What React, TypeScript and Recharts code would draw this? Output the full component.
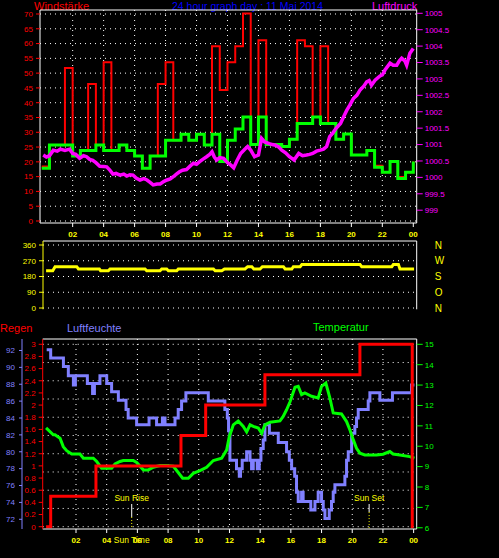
import { ComposedChart, Line, XAxis, YAxis, CartesianGrid, ReferenceLine } from 'recharts';

const FONT = '"Liberation Sans", Arial, sans-serif';

// half-hour slots for wind
const WIND_HOURS = [
  0, 0.5, 1, 1.5, 2, 2.5, 3, 3.5, 4, 4.5, 5, 5.5, 6, 6.5, 7, 7.5, 8, 8.5, 9, 9.5, 10, 10.5, 11, 11.5,
  12, 12.5, 13, 13.5, 14, 14.5, 15, 15.5, 16, 16.5, 17, 17.5, 18, 18.5, 19, 19.5, 20, 20.5, 21, 21.5,
  22, 22.5, 23, 23.5, 24,
];
const WIND_AVG = [
  17.8, 25.7, 25.7, 25.7, 22.0, 23.8, 23.8, 25.7, 23.8, 23.8, 25.7, 23.8, 22.0, 17.8, 22.0, 22.0,
  27.3, 27.3, 29.3, 27.3, 29.3, 25.7, 29.3, 20.1, 27.3, 31.1, 35.2, 25.9, 35.2, 25.9, 25.9, 25.2,
  27.6, 33.0, 33.0, 35.2, 33.0, 33.0, 27.6, 29.4, 22.3, 22.3, 23.8, 18.2, 16.5, 20.1, 14.4, 16.5, 20.1,
];
const WIND_GUST = [
  18.4, 25.7, 25.7, 51.7, 22.0, 23.8, 46.3, 25.7, 53.7, 23.8, 25.7, 23.8, 22.0, 17.8, 22.0, 46.3,
  53.7, 27.3, 29.3, 27.3, 29.3, 25.7, 59.1, 44.3, 53.7, 59.1, 70.2, 25.9, 61.1, 25.9, 25.9, 25.2,
  27.6, 61.1, 59.1, 35.2, 59.1, 33.0, 27.6, 29.4, 22.3, 22.3, 23.8, 18.7, 16.5, 20.1, 14.9, 16.5, 20.1,
];

// [hour, hPa]
const PRESSURE: [number, number][] = [
  [0.1, 1000.68], [0.3, 1000.62], [0.5, 1000.66], [0.75, 1000.83], [1.0, 1000.8], [1.2, 1000.86],
  [1.5, 1000.82], [1.8, 1000.86], [2.0, 1000.73], [2.2, 1000.7], [2.45, 1000.58], [2.7, 1000.66],
  [2.9, 1000.63], [3.1, 1000.55], [3.3, 1000.52], [3.5, 1000.45], [3.75, 1000.34], [4.0, 1000.33],
  [4.2, 1000.32], [4.4, 1000.22], [4.6, 1000.1], [4.8, 1000.12], [5.05, 1000.07], [5.3, 1000.1],
  [5.5, 1000.04], [5.7, 1000.08], [5.9, 1000.07], [6.1, 999.98], [6.35, 999.92], [6.6, 999.96],
  [6.8, 999.92], [7.0, 999.85], [7.2, 999.77], [7.45, 999.8], [7.65, 999.8], [7.9, 999.88],
  [8.1, 999.92], [8.3, 999.95], [8.5, 1000.02], [8.7, 1000.1], [8.9, 1000.17], [9.1, 1000.22],
  [9.35, 1000.24], [9.6, 1000.35], [9.8, 1000.43], [10.0, 1000.4], [10.2, 1000.48], [10.4, 1000.55],
  [10.65, 1000.63], [10.85, 1000.7], [11.0, 1000.78], [11.15, 1000.62], [11.3, 1000.53], [11.5, 1000.6],
  [11.75, 1000.58], [12.0, 1000.45], [12.2, 1000.38], [12.4, 1000.29], [12.6, 1000.5], [12.85, 1000.73],
  [13.1, 1000.85], [13.3, 1000.94], [13.5, 1000.83], [13.75, 1000.63], [14.0, 1000.68], [14.2, 1001.19],
  [14.4, 1001.08], [14.7, 1001.03], [14.9, 1001.0], [15.1, 1000.98], [15.3, 1000.93], [15.5, 1000.83],
  [15.75, 1000.75], [16.0, 1000.63], [16.3, 1000.53], [16.6, 1000.73], [16.85, 1000.66], [17.1, 1000.68],
  [17.3, 1000.7], [17.5, 1000.73], [17.75, 1000.8], [18.0, 1000.83], [18.2, 1000.86], [18.4, 1000.94],
  [18.6, 1001.24], [18.8, 1001.35], [19.0, 1001.49], [19.3, 1001.64], [19.5, 1001.85], [19.7, 1002.04],
  [19.9, 1002.2], [20.13, 1002.4], [20.35, 1002.5], [20.56, 1002.66], [20.8, 1002.78], [20.99, 1002.91],
  [21.15, 1002.95], [21.3, 1002.81], [21.53, 1002.96], [21.85, 1003.09], [22.0, 1003.12], [22.17, 1003.27],
  [22.5, 1003.48], [22.7, 1003.42], [22.93, 1003.42], [23.1, 1003.55], [23.25, 1003.63], [23.45, 1003.55],
  [23.57, 1003.42], [23.78, 1003.78], [24.0, 1003.93],
];

// [hour, degrees]
const DIRECTION: [number, number][] = [
  [0.28, 213], [0.71, 213], [0.86, 236], [2.26, 236], [2.37, 223], [3.72, 223], [3.8, 213], [4.3, 213],
  [4.41, 223], [6.67, 223], [6.78, 213], [7.64, 213], [7.75, 223], [8.07, 223], [8.18, 213], [8.72, 213],
  [8.82, 223], [11.09, 223], [11.2, 213], [11.63, 213], [11.8, 223], [13.13, 223], [13.3, 236], [13.57, 236],
  [13.7, 223], [14.1, 223], [14.25, 236], [15.61, 236], [15.72, 223], [16.15, 223], [16.25, 236], [16.69, 236],
  [16.8, 248], [20.56, 248], [20.67, 236], [22.61, 236], [22.71, 248], [23.04, 248], [23.14, 223], [24.05, 223],
];

// [hour, %]
const HUMIDITY: [number, number][] = [
  [0.09, 92.1], [0.35, 91.1], [1.18, 90.1], [1.5, 89.0], [1.83, 87.9], [1.96, 89.0], [2.74, 88.1],
  [3.08, 86.9], [3.2, 88.1], [3.56, 89.0], [4.0, 88.1], [4.32, 87.1], [4.76, 86.1], [5.26, 85.0],
  [5.4, 84.0], [5.95, 83.2], [6.76, 84.0], [7.25, 83.2], [7.63, 84.0], [7.8, 83.2], [8.45, 84.0],
  [8.66, 85.0], [8.88, 86.0], [9.16, 87.0], [10.62, 86.0], [11.7, 85.0], [11.86, 84.0], [11.94, 82.5],
  [12.03, 79.0], [12.46, 78.0], [12.64, 77.1], [12.72, 78.0], [12.83, 79.0], [13.12, 80.0], [13.34, 79.0],
  [13.44, 78.0], [13.55, 79.0], [13.81, 78.0], [13.94, 79.0], [14.05, 80.4], [14.2, 81.4], [14.31, 83.2],
  [14.6, 82.2], [15.18, 81.1], [15.72, 80.0], [15.9, 79.0], [16.05, 78.0], [16.25, 77.1], [16.37, 75.2],
  [16.48, 74.1], [16.7, 75.2], [16.8, 74.1], [17.3, 73.1], [17.57, 74.1], [17.78, 75.2], [18.0, 74.1],
  [18.11, 73.1], [18.22, 72.1], [18.5, 73.1], [18.65, 74.1], [18.76, 75.2], [18.87, 76.1], [19.52, 77.1],
  [19.63, 79.0], [19.74, 80.0], [19.96, 82.2], [20.17, 83.0], [20.28, 84.0], [20.39, 85.0], [21.04, 86.0],
  [21.15, 87.0], [21.8, 86.1], [22.62, 87.0], [23.86, 87.9], [24.05, 87.9],
];

// [hour, °C]
const TEMPERATURE: [number, number][] = [
  [0.05, 10.9], [0.52, 10.56], [0.63, 10.56], [0.96, 10.39], [1.17, 9.98], [1.39, 9.78], [1.72, 9.62],
  [2.26, 9.62], [2.48, 9.41], [3.13, 9.41], [3.35, 9.25], [3.67, 8.92], [4.32, 8.92], [4.54, 9.13],
  [4.87, 9.25], [5.08, 9.3], [5.73, 9.3], [5.95, 9.2], [6.39, 8.84], [6.71, 8.84], [7.04, 8.97],
  [7.47, 9.05], [7.9, 9.05], [8.34, 9.02], [8.66, 8.71], [8.95, 8.43], [9.32, 8.43], [9.64, 8.67],
  [10.08, 8.8], [10.51, 8.97], [10.95, 9.3], [11.49, 9.41], [11.82, 9.82], [11.99, 10.48], [12.14, 10.8],
  [12.25, 11.05], [12.57, 11.24], [12.9, 10.97], [13.12, 10.7], [13.34, 11.05], [13.55, 10.97],
  [13.88, 10.89], [14.1, 10.64], [14.31, 11.05], [14.64, 11.18], [15.29, 11.24], [15.5, 11.46],
  [15.72, 11.79], [15.94, 12.17], [16.27, 12.89], [16.48, 12.94], [16.7, 12.53], [16.91, 12.61],
  [17.35, 12.45], [17.78, 12.37], [18.0, 12.94], [18.28, 13.1], [18.54, 12.37], [18.76, 11.63],
  [19.3, 11.58], [19.63, 11.21], [19.85, 10.8], [20.07, 10.31], [20.28, 9.9], [20.5, 9.66], [20.82, 9.57],
  [21.58, 9.57], [22.01, 9.61], [22.45, 9.74], [22.66, 9.62], [23.1, 9.57], [23.75, 9.49], [24.05, 9.41],
];

// [hour, mm]
const RAIN: [number, number][] = [
  [0.05, 0], [0.35, 0.5], [3.3, 1.0], [8.84, 1.5], [10.45, 2.0], [14.31, 2.5], [20.5, 3.0], [23.91, 0], [24.0, 0],
];

const HOUR_TICKS = [2, 4, 6, 8, 10, 12, 14, 16, 18, 20, 22, 24];
const GRID_HOURS = [2, 4, 6, 8, 10, 12, 14, 16, 18, 20, 22];
const WIND_TICKS = [0, 5, 10, 15, 20, 25, 30, 35, 40, 45, 50, 55, 60, 65, 70];
const PRESS_TICKS = [999, 999.5, 1000, 1000.5, 1001, 1001.5, 1002, 1002.5, 1003, 1003.5, 1004, 1004.5, 1005];
const DIR_TICKS = [0, 90, 180, 270, 360];
const DIR_LETTERS: Record<number, string> = { 0: 'N', 90: 'O', 180: 'S', 270: 'W', 360: 'N' };
const RAIN_TICKS = [0, 0.2, 0.4, 0.6, 0.8, 1, 1.2, 1.4, 1.6, 1.8, 2, 2.2, 2.4, 2.6, 2.8, 3];
const RAIN_GRID = [0, 0.3, 0.6, 0.9, 1.2, 1.5, 1.8, 2.1, 2.4, 2.7, 3];
const HUM_TICKS = [72, 74, 76, 78, 80, 82, 84, 86, 88, 90, 92];
const TEMP_TICKS = [6, 7, 8, 9, 10, 11, 12, 13, 14, 15];

const SUN_RISE = 5.63;
const SUN_SET = 21.1;

const windData = WIND_HOURS.map((h, i) => ({ h, avg: WIND_AVG[i], gust: WIND_GUST[i] }));
const pressData = PRESSURE.map(([h, v]) => ({ h, v }));
const dirData = DIRECTION.map(([h, v]) => ({ h, v }));
const humData = HUMIDITY.map(([h, v]) => ({ h, v }));
const tempData = TEMPERATURE.map(([h, v]) => ({ h, v }));
const rainData = RAIN.map(([h, v]) => ({ h, v }));

const fmtHour = (v: number) => String(v % 24).padStart(2, '0');
const fmtRain = (v: number) => String(Math.round(v * 10) / 10);

const WIND_DOMAIN = [-0.68, 71.35];
const PRESS_DOMAIN = [998.61, 1005.1];
const DIR_DOMAIN = [-7.4, 382.9];
const RAIN_DOMAIN = [-0.038, 3.087];
const HUM_DOMAIN = [70.85, 93.36];
const TEMP_DOMAIN = [5.94, 15.26];

// left axes are stacked in id order: the first one sits next to the plot
const RAIN_AXIS = 'a-rain';
const HUM_AXIS = 'b-hum';

const dotted = { stroke: '#ffffff', strokeDasharray: '1 4' };

function Title({ x, y, color, children, size = 11 }: any) {
  return (
    <div
      style={{
        position: 'absolute',
        left: x,
        top: y,
        color,
        fontSize: size,
        lineHeight: '12px',
        whiteSpace: 'nowrap',
      }}
    >
      {children}
    </div>
  );
}

export default function App() {
  return (
    <div
      style={{
        position: 'absolute',
        left: 0,
        top: 0,
        width: 499,
        height: 558,
        background: '#000',
        fontFamily: FONT,
        overflow: 'hidden',
      }}
    >
      <Title x={34} y={0} color="#ff0000">Windstärke</Title>
      <Title x={172} y={0} color="#0000ff" size={10.5}>24 hour graph day : 11 Mai 2014</Title>
      <Title x={372} y={0} color="#ff00ff">Luftdruck</Title>
      <Title x={0} y={322} color="#ff0000">Regen</Title>
      <Title x={67} y={322} color="#8080ff">Luftfeuchte</Title>
      <Title x={313} y={321} color="#00ff00">Temperatur</Title>

      {/* wind + pressure */}
      <div style={{ position: 'absolute', left: 0, top: 0 }}>
        <ComposedChart width={499} height={240} margin={{ top: 10, right: 0, bottom: 0, left: 0 }}>
          <CartesianGrid {...dotted} yAxisId="wind" horizontalValues={WIND_TICKS} verticalValues={GRID_HOURS} />
          <XAxis
            type="number"
            dataKey="h"
            domain={[-0.11, 24.22]}
            allowDataOverflow
            ticks={HOUR_TICKS}
            interval={0}
            tickFormatter={fmtHour}
            height={17}
            stroke="#ffffff"
            tick={{ fill: '#ffff00', fontSize: 8, fontWeight: 'bold' }}
            tickSize={4}
            tickMargin={4}
          />
          <YAxis
            yAxisId="wind"
            type="number"
            domain={WIND_DOMAIN}
            allowDataOverflow
            ticks={WIND_TICKS}
            interval={0}
            width={40}
            axisLine={{ stroke: '#ffffff' }}
            tickLine={{ stroke: '#ff0000' }}
            tick={{ fill: '#ff0000', fontSize: 8 }}
            tickSize={4}
            tickMargin={3}
          />
          <YAxis
            yAxisId="press"
            orientation="right"
            type="number"
            domain={PRESS_DOMAIN}
            allowDataOverflow
            ticks={PRESS_TICKS}
            interval={0}
            width={82.3}
            axisLine={{ stroke: '#ffffff' }}
            tickLine={{ stroke: '#ff00ff' }}
            tick={{ fill: '#ff00ff', fontSize: 8 }}
            tickSize={6}
            tickMargin={2}
          />
          <ReferenceLine yAxisId="wind" y={WIND_DOMAIN[1]} stroke="#ffffff" />
          <Line
            data={windData}
            yAxisId="wind"
            dataKey="gust"
            type="stepAfter"
            stroke="#ff0000"
            strokeWidth={2}
            dot={false}
            isAnimationActive={false}
          />
          <Line
            data={windData}
            yAxisId="wind"
            dataKey="avg"
            type="stepAfter"
            stroke="#00ff00"
            strokeWidth={3}
            dot={false}
            isAnimationActive={false}
          />
          <Line
            data={pressData}
            yAxisId="press"
            dataKey="v"
            type="linear"
            stroke="#ff00ff"
            strokeWidth={3.5}
            dot={false}
            isAnimationActive={false}
          />
        </ComposedChart>
      </div>

      {/* wind direction */}
      <div style={{ position: 'absolute', left: 0, top: 236 }}>
        <ComposedChart width={499} height={78} margin={{ top: 5, right: 0, bottom: 4.7, left: 0 }}>
          <CartesianGrid {...dotted} yAxisId="dir" vertical={false} horizontalValues={DIR_TICKS} />
          <XAxis type="number" dataKey="h" domain={[0.08, 24.22]} allowDataOverflow hide />
          <YAxis
            yAxisId="dir"
            type="number"
            domain={DIR_DOMAIN}
            allowDataOverflow
            ticks={DIR_TICKS}
            interval={0}
            width={43}
            axisLine={{ stroke: '#ffff00' }}
            tickLine={{ stroke: '#ffff00' }}
            tick={{ fill: '#ffff00', fontSize: 8 }}
            tickSize={4}
            tickMargin={3}
          />
          <YAxis
            yAxisId="dirR"
            orientation="right"
            type="number"
            domain={DIR_DOMAIN}
            allowDataOverflow
            ticks={DIR_TICKS}
            interval={0}
            width={82.3}
            tickFormatter={(v: number) => DIR_LETTERS[v]}
            axisLine={{ stroke: '#ffffff' }}
            tickLine={false}
            tick={{ fill: '#ffff00', fontSize: 10 }}
            tickSize={6}
            tickMargin={12}
          />
          <ReferenceLine yAxisId="dir" y={DIR_DOMAIN[1]} stroke="#ffffff" />
          <Line
            data={dirData}
            yAxisId="dir"
            dataKey="v"
            type="linear"
            stroke="#ffff00"
            strokeWidth={3}
            dot={false}
            isAnimationActive={false}
          />
        </ComposedChart>
      </div>

      {/* rain, humidity, temperature */}
      <div style={{ position: 'absolute', left: 0, top: 330 }}>
        <ComposedChart width={499} height={228} margin={{ top: 9, right: 0, bottom: 0, left: 0 }}>
          <CartesianGrid {...dotted} yAxisId={RAIN_AXIS} horizontalValues={RAIN_GRID} verticalValues={GRID_HOURS} />
          <XAxis
            type="number"
            dataKey="h"
            domain={[-0.17, 24.2]}
            allowDataOverflow
            ticks={HOUR_TICKS}
            interval={0}
            tickFormatter={fmtHour}
            height={29}
            stroke="#ffffff"
            tick={{ fill: '#ffff00', fontSize: 8, fontWeight: 'bold' }}
            tickSize={4}
            tickMargin={4}
          />
          <YAxis
            yAxisId={RAIN_AXIS}
            type="number"
            domain={RAIN_DOMAIN}
            allowDataOverflow
            ticks={RAIN_TICKS}
            interval={0}
            tickFormatter={fmtRain}
            width={20.7}
            axisLine={{ stroke: '#ff0000' }}
            tickLine={{ stroke: '#ff0000' }}
            tick={{ fill: '#ff0000', fontSize: 8 }}
            tickSize={4}
            tickMargin={3}
          />
          <YAxis
            yAxisId={HUM_AXIS}
            type="number"
            domain={HUM_DOMAIN}
            allowDataOverflow
            ticks={HUM_TICKS}
            interval={0}
            width={22}
            axisLine={{ stroke: '#8080ff' }}
            tickLine={{ stroke: '#8080ff' }}
            tick={{ fill: '#8080ff', fontSize: 8 }}
            tickSize={3}
            tickMargin={4}
          />
          <YAxis
            yAxisId="temp"
            orientation="right"
            type="number"
            domain={TEMP_DOMAIN}
            allowDataOverflow
            ticks={TEMP_TICKS}
            interval={0}
            width={82.3}
            axisLine={{ stroke: '#ffffff' }}
            tickLine={{ stroke: '#00ff00' }}
            tick={{ fill: '#00ff00', fontSize: 8 }}
            tickSize={6}
            tickMargin={2}
          />
          <ReferenceLine yAxisId={RAIN_AXIS} y={RAIN_DOMAIN[1]} stroke="#ffffff" />
          <ReferenceLine
            yAxisId={RAIN_AXIS}
            segment={[{ x: SUN_RISE, y: 0.373 }, { x: SUN_RISE, y: 0.16 }]}
            stroke="#ffffff"
            label={{ value: 'Sun Rise', position: 'top', fill: '#ffff00', fontSize: 8.5, offset: 3 }}
          />
          <ReferenceLine
            yAxisId={RAIN_AXIS}
            segment={[{ x: SUN_RISE, y: 0.16 }, { x: SUN_RISE, y: RAIN_DOMAIN[0] }]}
            stroke="#ffff00"
            strokeDasharray="1 2"
            label={{ value: 'Sun Time', position: 'bottom', fill: '#ffff00', fontSize: 8.5, offset: 8 }}
          />
          <ReferenceLine
            yAxisId={RAIN_AXIS}
            segment={[{ x: SUN_SET, y: 0.373 }, { x: SUN_SET, y: 0.24 }]}
            stroke="#ffffff"
            label={{ value: 'Sun Set', position: 'top', fill: '#ffff00', fontSize: 8.5, offset: 3 }}
          />
          <ReferenceLine
            yAxisId={RAIN_AXIS}
            segment={[{ x: SUN_SET, y: 0.24 }, { x: SUN_SET, y: RAIN_DOMAIN[0] }]}
            stroke="#ffff00"
            strokeDasharray="1 2"
          />
          <Line
            data={humData}
            yAxisId={HUM_AXIS}
            dataKey="v"
            type="stepAfter"
            stroke="#8080ff"
            strokeWidth={3}
            dot={false}
            isAnimationActive={false}
          />
          <Line
            data={tempData}
            yAxisId="temp"
            dataKey="v"
            type="linear"
            stroke="#00ff00"
            strokeWidth={3}
            dot={false}
            isAnimationActive={false}
          />
          <Line
            data={rainData}
            yAxisId={RAIN_AXIS}
            dataKey="v"
            type="stepAfter"
            stroke="#ff0000"
            strokeWidth={3}
            dot={false}
            isAnimationActive={false}
          />
        </ComposedChart>
      </div>
    </div>
  );
}
